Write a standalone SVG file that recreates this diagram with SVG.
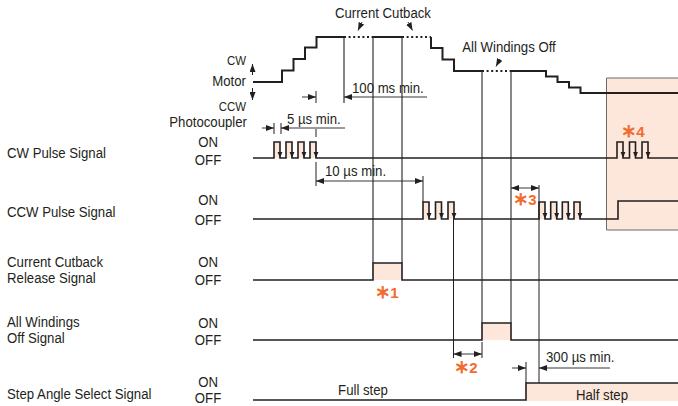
<svg xmlns="http://www.w3.org/2000/svg" width="678" height="406" viewBox="0 0 678 406">
<style>
text{font-family:"Liberation Sans",Arial,sans-serif;font-size:15px;fill:#231f20}
.m{text-anchor:middle}
.e{text-anchor:end}
.sm{font-size:13px}
.o{fill:#f26b2e;font-weight:bold;font-size:15px}
.ast{font-family:"Noto Sans CJK JP",sans-serif;stroke:#f26b2e;stroke-width:0.8}
.sig{fill:none;stroke:#231f20;stroke-width:1.6;stroke-linejoin:miter}
.mot{fill:none;stroke:#231f20;stroke-width:2}
.dot{fill:none;stroke:#231f20;stroke-width:2;stroke-dasharray:2 2.6}
.g1{stroke:#333;stroke-width:1.2;fill:none}
.g2{stroke:#6b6b6b;stroke-width:1.6;fill:none}
.thin{stroke:#231f20;stroke-width:1;fill:none}
.dim{stroke:#231f20;stroke-width:0.9;fill:none}
.fill{fill:#fde7da}
</style>
<defs>
<marker id="ah" viewBox="0 0 8 6" refX="8" refY="3" markerWidth="8" markerHeight="6" markerUnits="userSpaceOnUse" orient="auto-start-reverse">
<path d="M0,0 L8,3 L0,6 z" fill="#231f20"/>
</marker>
<path id="dn" d="M-2.4,-6 L2.4,-6 L0,0 z" fill="#231f20"/>
</defs>

<!-- peach box -->
<g id="box4">
<path d="M678,78 H606.5 V230 H678" fill="#fde7da" stroke="#6b6b6b" stroke-width="1"/>
</g>

<!-- pulse fills -->
<g id="fills" class="fill">
<rect x="274" y="142" width="6" height="16"/>
<rect x="286" y="142" width="6" height="16"/>
<rect x="298" y="142" width="6" height="16"/>
<rect x="310" y="142" width="6" height="16"/>
<rect x="423" y="202" width="6" height="17"/>
<rect x="435.5" y="202" width="6" height="17"/>
<rect x="448" y="202" width="6" height="17"/>
<rect x="539" y="202" width="6" height="17"/>
<rect x="550.7" y="202" width="6" height="17"/>
<rect x="562.3" y="202" width="6" height="17"/>
<rect x="574" y="202" width="6" height="17"/>
<rect x="373" y="263" width="29" height="17"/>
<rect x="482" y="323" width="29" height="17"/>
<rect x="526" y="383" width="152" height="18"/>
</g>

<!-- guide lines -->
<g id="guides">
<line class="g1" x1="344" y1="37" x2="344" y2="103"/>
<line class="g1" x1="373" y1="37" x2="373" y2="263"/>
<line class="g1" x1="402" y1="37" x2="402" y2="263"/>
<line class="g2" x1="482" y1="71" x2="482" y2="323"/>
<line class="g2" x1="511" y1="71" x2="511" y2="323"/>
<line class="thin" x1="453.5" y1="219" x2="453.5" y2="358"/>
<line class="thin" x1="539" y1="185" x2="539" y2="383"/>
<line class="thin" x1="316" y1="91" x2="316" y2="103"/>
<line class="thin" x1="316" y1="129" x2="316" y2="137"/>
<line class="thin" x1="316" y1="162" x2="316" y2="186"/>
<line class="thin" x1="274" y1="123" x2="274" y2="134"/>
<line class="thin" x1="281" y1="123" x2="281" y2="134"/>
<line class="thin" x1="423" y1="176" x2="423" y2="202"/>
<line class="thin" x1="482" y1="342" x2="482" y2="358"/>
<line class="thin" x1="526" y1="362" x2="526" y2="383"/>
</g>

<!-- motor -->
<g id="motor">
<path class="mot" d="M253,82 H282 V70.5 H293.5 V59 H305 V47.5 H316.5 V37 H344"/>
<path class="dot" d="M344,37 H373"/>
<path class="mot" d="M373,37 H402"/>
<path class="dot" d="M402,37 H431"/>
<path class="mot" d="M431,37 V48 H442.5 V59.5 H454 V71 H482"/>
<path class="dot" d="M482,71 H511"/>
<path class="mot" d="M511,71 H546 V76.5 H557.5 V82 H569 V87.5 H580.5 V93 H678"/>
<line class="thin" x1="252.5" y1="75" x2="252.5" y2="64" marker-end="url(#ah)"/>
<line class="thin" x1="252.5" y1="88" x2="252.5" y2="100" marker-end="url(#ah)"/>
</g>

<!-- signals -->
<g id="cw-pulse">
<path class="sig" d="M253,158 H274 V142 H280 V158 H286 V142 H292 V158 H298 V142 H304 V158 H310 V142 H316 V158 H617 V142 H623 V158 H629.5 V142 H635.5 V158 H642 V142 H648 V158 H678"/>
<use href="#dn" x="280" y="158"/><use href="#dn" x="292" y="158"/><use href="#dn" x="304" y="158"/><use href="#dn" x="316" y="158"/>
<use href="#dn" x="623" y="158"/><use href="#dn" x="635.5" y="158"/><use href="#dn" x="648" y="158"/>
</g>
<g id="ccw-pulse">
<path class="sig" d="M253,219 H423 V202 H429 V219 H435.5 V202 H441.5 V219 H448 V202 H454 V219 H539 V202 H545 V219 H550.7 V202 H556.7 V219 H562.3 V202 H568.3 V219 H574 V202 H580 V219 H618 V201 H678"/>
<use href="#dn" x="429" y="219"/><use href="#dn" x="441.5" y="219"/><use href="#dn" x="454" y="219"/>
<use href="#dn" x="545" y="219"/><use href="#dn" x="556.7" y="219"/><use href="#dn" x="568.3" y="219"/><use href="#dn" x="580" y="219"/>
</g>
<g id="cutback-release">
<path class="sig" d="M253,280 H373 V263 H402 V280 H678"/>
</g>
<g id="all-windings-off">
<path class="sig" d="M253,340 H482 V323 H511 V340 H678"/>
</g>
<g id="step-angle">
<path class="sig" d="M253,400 H526 V383 H678"/>
</g>

<!-- dimensions -->
<g id="dims">
<path class="dim" d="M302,97 H316" marker-end="url(#ah)"/>
<path class="dim" d="M427,97 H344" marker-end="url(#ah)"/>
<path class="dim" d="M262,128 H274" marker-end="url(#ah)"/>
<path class="dim" d="M345,128 H281" marker-end="url(#ah)"/>
<path class="dim" d="M316,181 H423" marker-start="url(#ah)" marker-end="url(#ah)"/>
<path class="dim" d="M511,188 H539" marker-start="url(#ah)" marker-end="url(#ah)"/>
<path class="dim" d="M453.5,354 H482" marker-start="url(#ah)" marker-end="url(#ah)"/>
<path class="dim" d="M512,368 H526" marker-end="url(#ah)"/>
<path class="dim" d="M610,368 H539" marker-end="url(#ah)"/>
<path class="dim" d="M362,22 L358,30.5" marker-end="url(#ah)"/>
<path class="dim" d="M408,22 L412.5,30.5" marker-end="url(#ah)"/>
<path class="dim" d="M500,59 L496,66.5" marker-end="url(#ah)"/>
</g>

<!-- texts (horizontally condensed) -->
<g id="labels" transform="scale(0.88,1)">
<text class="m" x="435.2" y="18">Current Cutback</text>
<text class="m" x="578.4" y="52">All Windings Off</text>
<text x="400" y="93">100 ms min.</text>
<text x="326.1" y="124">5 µs min.</text>
<text x="369.3" y="176">10 µs min.</text>
<text x="620.5" y="362">300 µs min.</text>
<text class="m" x="412.5" y="395">Full step</text>
<text class="m" x="684.1" y="400">Half step</text>
<text class="e sm" x="279.5" y="65">CW</text>
<text class="e" x="279.5" y="86">Motor</text>
<text class="e sm" x="279.5" y="111">CCW</text>
<text class="e" x="280.7" y="127.5">Photocoupler</text>
<text class="m" x="236.4" y="147">ON</text>
<text class="m" x="236.4" y="165">OFF</text>
<text class="m" x="236.4" y="205">ON</text>
<text class="m" x="236.4" y="225">OFF</text>
<text class="m" x="236.4" y="267">ON</text>
<text class="m" x="236.4" y="285">OFF</text>
<text class="m" x="236.4" y="328">ON</text>
<text class="m" x="236.4" y="345">OFF</text>
<text class="m" x="236.4" y="387">ON</text>
<text class="m" x="236.4" y="403">OFF</text>
<text x="8" y="158">CW Pulse Signal</text>
<text x="8" y="217">CCW Pulse Signal</text>
<text x="8" y="267">Current Cutback</text>
<text x="8" y="283">Release Signal</text>
<text x="8" y="327">All Windings</text>
<text x="8" y="343">Off Signal</text>
<text x="8" y="399">Step Angle Select Signal</text>
</g>
<g id="notes">
<text class="o m" x="387" y="298"><tspan class="ast">＊</tspan>1</text>
<text class="o m" x="466" y="373"><tspan class="ast">＊</tspan>2</text>
<text class="o m" x="525" y="205"><tspan class="ast">＊</tspan>3</text>
<text class="o m" x="633" y="137"><tspan class="ast">＊</tspan>4</text>
</g>
</svg>
